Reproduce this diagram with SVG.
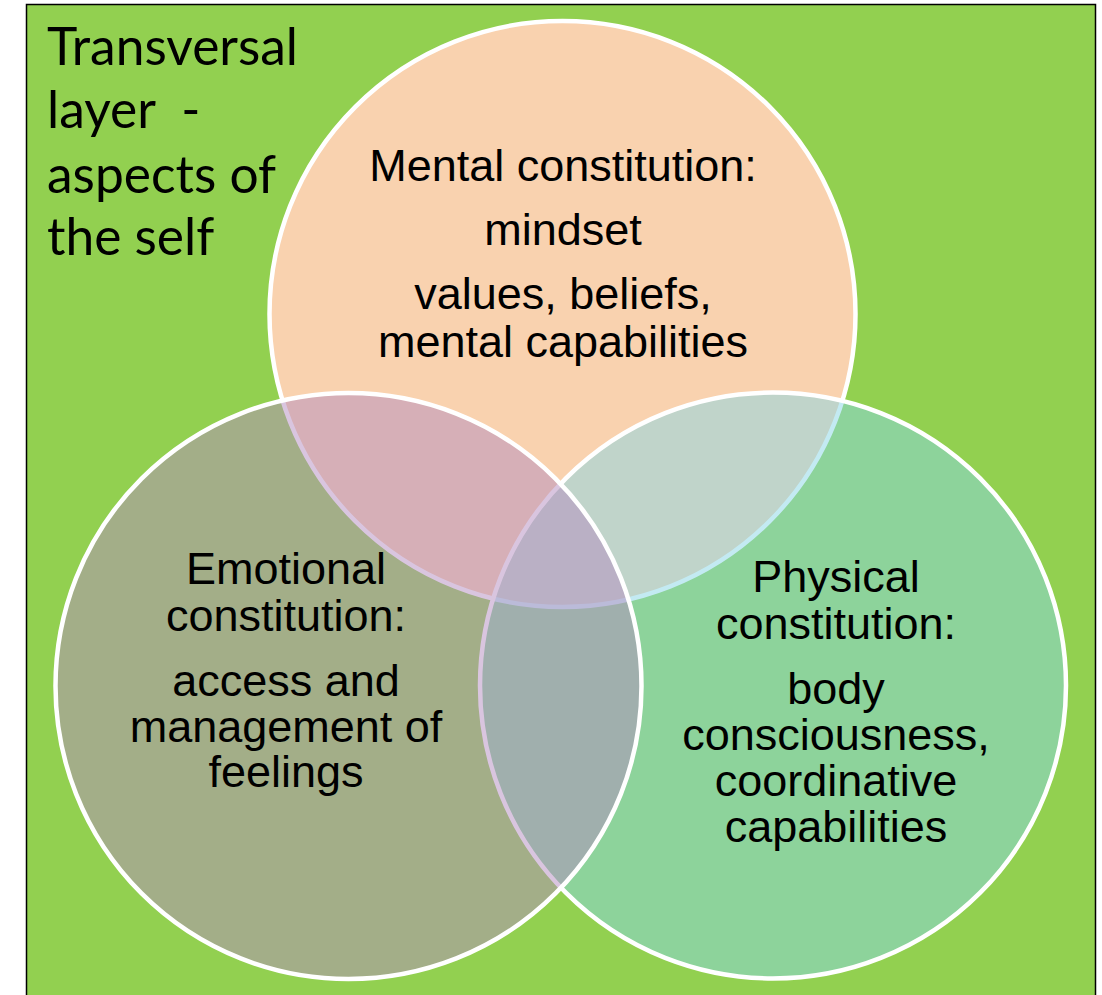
<svg xmlns="http://www.w3.org/2000/svg" width="1102" height="995" viewBox="0 0 1102 995">
  <style>
    .circ { stroke: #FFFFFF; stroke-width: 4.5; }
    .lbl { font-family: "Liberation Sans", Arial, sans-serif; font-size: 45px; fill: #000000; text-anchor: middle; }
    .title { font-family: Lato, "Open Sans", sans-serif; font-size: 51.5px; fill: #000000; }
  </style>
  <rect x="0" y="0" width="1102" height="995" fill="#FFFFFF"/>
  <g id="background">
    <rect x="26.5" y="4.5" width="1069" height="1000" fill="#92D050" stroke="#000000" stroke-width="1.5"/>
  </g>
  <g id="title-text">
    <text class="title" x="47" y="65">Transversal</text>
    <text class="title" x="47" y="128" xml:space="preserve">layer  -</text>
    <text class="title" x="47" y="193">aspects of</text>
    <text class="title" x="47" y="255">the self</text>
  </g>
  <g id="mental">
    <circle class="circ" cx="562.5" cy="314" r="293" fill="#F9D2AF"/>
  </g>
  <g id="physical">
    <circle class="circ" cx="773" cy="685.5" r="293" fill="rgb(136,214,230)" fill-opacity="0.5"/>
  </g>
  <g id="emotional">
    <circle class="circ" cx="348.5" cy="686" r="293" fill="rgb(180,140,192)" fill-opacity="0.5"/>
  </g>
  <g id="connectors"></g>
  <g id="mental-text">
    <text class="lbl" x="563" y="181">Mental constitution:</text>
    <text class="lbl" x="563" y="245">mindset</text>
    <text class="lbl" x="563" y="309">values, beliefs,</text>
    <text class="lbl" x="563" y="357">mental capabilities</text>
  </g>
  <g id="emotional-text">
    <text class="lbl" x="286" y="584">Emotional</text>
    <text class="lbl" x="286" y="631">constitution:</text>
    <text class="lbl" x="286" y="696">access and</text>
    <text class="lbl" x="286" y="742">management of</text>
    <text class="lbl" x="286" y="787">feelings</text>
  </g>
  <g id="physical-text">
    <text class="lbl" x="836" y="592">Physical</text>
    <text class="lbl" x="836" y="639">constitution:</text>
    <text class="lbl" x="836" y="704">body</text>
    <text class="lbl" x="836" y="750">consciousness,</text>
    <text class="lbl" x="836" y="796">coordinative</text>
    <text class="lbl" x="836" y="842">capabilities</text>
  </g>
</svg>
